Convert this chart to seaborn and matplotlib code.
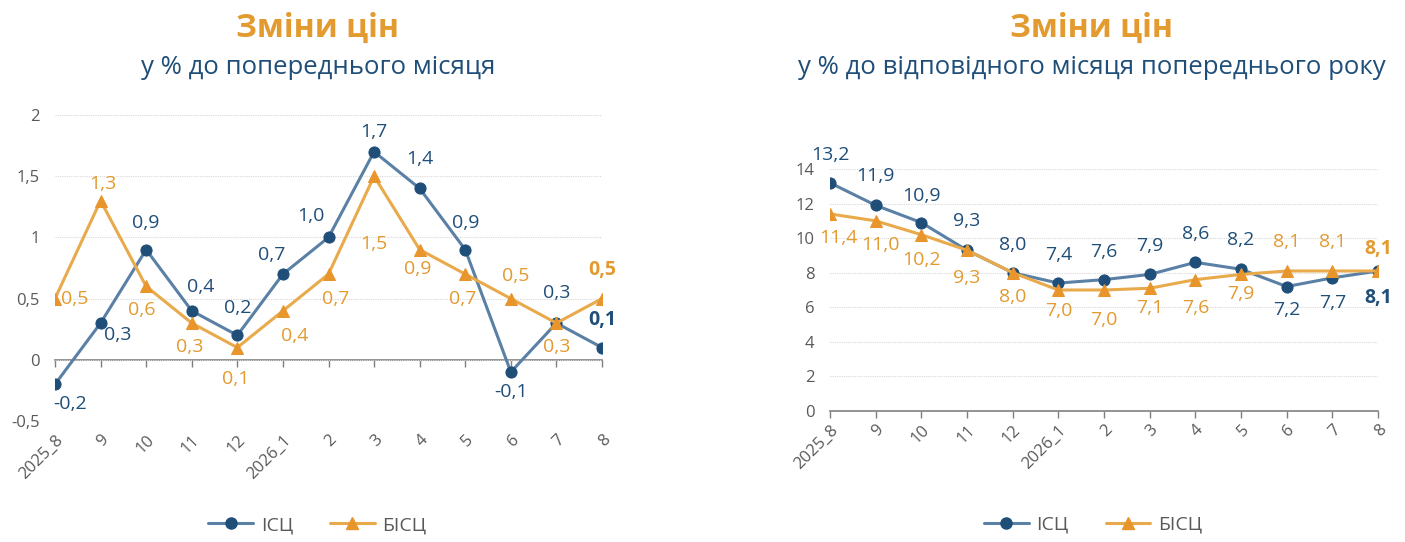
import pandas as pd
import seaborn as sns
import matplotlib.pyplot as plt
from matplotlib.lines import Line2D

# ---- дані ----
months = ['2025_8', '9', '10', '11', '12', '2026_1', '2', '3', '4', '5', '6', '7', '8']
isc_mom = [-0.2, 0.3, 0.9, 0.4, 0.2, 0.7, 1.0, 1.7, 1.4, 0.9, -0.1, 0.3, 0.1]
bisc_mom = [0.5, 1.3, 0.6, 0.3, 0.1, 0.4, 0.7, 1.5, 0.9, 0.7, 0.5, 0.3, 0.5]
isc_yoy = [13.2, 11.9, 10.9, 9.3, 8.0, 7.4, 7.6, 7.9, 8.6, 8.2, 7.2, 7.7, 8.1]
bisc_yoy = [11.4, 11.0, 10.2, 9.3, 8.0, 7.0, 7.0, 7.1, 7.6, 7.9, 8.1, 8.1, 8.1]

# зміщення підписів (пікселі: dx, dy вниз)
isc_mom_off = [(15, 20), (17, 12), (0, -27), (9, -24), (0, -27), (-11, -19), (-18, -21),
               (0, -20), (0, -29), (0, -27), (0, 20), (0, -30), (0, -28)]
bisc_mom_off = [(20, 0), (2, -17), (-4, 24), (-2, 24), (-2, 31), (12, 25), (7, 25),
                (0, 68), (-2, 19), (-3, 25), (5, -23), (0, 24), (0, -29)]
isc_yoy_off = [(0, -28), (0, -29), (0, -27), (0, -29), (0, -28), (0, -28), (0, -28),
               (0, -28), (0, -28), (0, -29), (0, 23), (0, 25), (0, 27)]
bisc_yoy_off = [(8, 24), (5, 24), (0, 25), (0, 28), (0, 24), (0, 21), (0, 30),
                (0, 20), (0, 28), (0, 20), (0, -29), (0, -29), (0, -22)]

BLUE_LINE = '#5b80a5'
BLUE_MARK = '#1f4e79'
ORANGE_LINE = '#e9aa4c'
ORANGE_MARK = '#e8952c'
ORANGE_TXT = '#e39a2f'
GREY = '#595959'

sns.set_style('white')
plt.rcParams['font.family'] = ['Open Sans', 'DejaVu Sans']

fig = plt.figure(figsize=(14.05, 5.42), dpi=100)
ax1 = fig.add_axes([55 / 1405, 1 - 421 / 542, 547 / 1405, 306 / 542])
ax2 = fig.add_axes([830 / 1405, 1 - 411 / 542, 548 / 1405, 242 / 542])


def fmt(v):
    return f'{v:.1f}'.replace('.', ',')


def draw(ax, isc, bisc, isc_off, bisc_off):
    df = pd.DataFrame({'month': months, 'isc': isc, 'bisc': bisc})
    sns.lineplot(data=df, x='month', y='isc', ax=ax, sort=False, color=BLUE_LINE, lw=2.2,
                 marker='o', markersize=8, markerfacecolor=BLUE_MARK, markeredgecolor=BLUE_MARK)
    sns.lineplot(data=df, x='month', y='bisc', ax=ax, sort=False, color=ORANGE_LINE, lw=2.2,
                 marker='^', markersize=8, markerfacecolor=ORANGE_MARK, markeredgecolor=ORANGE_MARK)
    n = len(months)
    for i, (v, (dx, dy)) in enumerate(zip(isc, isc_off)):
        ax.annotate(fmt(v), (i, v), xytext=(dx * 0.72, -dy * 0.72), textcoords='offset points',
                    ha='center', va='center', fontsize=14, color=BLUE_MARK,
                    fontweight='bold' if i == n - 1 else 'normal', annotation_clip=False)
    for i, (v, (dx, dy)) in enumerate(zip(bisc, bisc_off)):
        ax.annotate(fmt(v), (i, v), xytext=(dx * 0.72, -dy * 0.72), textcoords='offset points',
                    ha='center', va='center', fontsize=14, color=ORANGE_TXT,
                    fontweight='bold' if i == n - 1 else 'normal', annotation_clip=False)
    ax.set_xlim(0, n - 1)
    ax.set_xlabel('')
    ax.set_ylabel('')
    ax.set_xticks(range(n))
    ax.set_xticklabels(months, rotation=45, ha='right', rotation_mode='anchor',
                       fontsize=12, color=GREY)
    ax.tick_params(axis='x', length=0, pad=8)
    ax.tick_params(axis='y', length=0, labelsize=12, labelcolor=GREY, pad=11)
    ax.grid(axis='y', color='#d9d9d9', linestyle=(0, (1, 1)), lw=0.8)
    for s in ax.spines.values():
        s.set_visible(False)
    ax.legend(handles=[
        Line2D([], [], color=BLUE_LINE, lw=2.2, marker='o', markersize=8,
               markerfacecolor=BLUE_MARK, markeredgecolor=BLUE_MARK, label='ІСЦ'),
        Line2D([], [], color=ORANGE_LINE, lw=2.2, marker='^', markersize=8,
               markerfacecolor=ORANGE_MARK, markeredgecolor=ORANGE_MARK, label='БІСЦ'),
    ], loc='center', ncol=2, frameon=False, fontsize=14, labelcolor=GREY,
        handlelength=2.3, handletextpad=0.4, columnspacing=1.9)


draw(ax1, isc_mom, bisc_mom, isc_mom_off, bisc_mom_off)
ax1.set_ylim(-0.5, 2)
ax1.set_yticks([-0.5, 0, 0.5, 1, 1.5, 2])
ax1.set_yticklabels(['-0,5', '0', '0,5', '1', '1,5', '2'])
ax1.get_legend().set_bbox_to_anchor((0.48, -0.34))
zero = ax1.secondary_xaxis(0.2)

draw(ax2, isc_yoy, bisc_yoy, isc_yoy_off, bisc_yoy_off)
ax2.set_ylim(0, 14)
ax2.set_yticks(range(0, 15, 2))
ax2.get_legend().set_bbox_to_anchor((0.48, -0.47))
zero2 = ax2.secondary_xaxis(0.0)

for sec in (zero, zero2):
    sec.set_xticks(range(len(months)))
    sec.set_xticklabels([])
    sec.tick_params(direction='out', length=5, color='#7f7f7f', width=1)
    sec.spines['bottom'].set_color('#7f7f7f')
    sec.spines['bottom'].set_linewidth(1.2)

for cx, sub in ((318, 'у % до попереднього місяця'),
                (1092, 'у % до відповідного місяця попереднього року')):
    fig.text(cx / 1405, 1 - 28 / 542, 'Зміни цін', ha='center', va='center',
             fontsize=23, fontweight='bold', color=ORANGE_TXT)
    fig.text(cx / 1405, 1 - 68 / 542, sub, ha='center', va='center',
             fontsize=18.5, color=BLUE_MARK)

fig.savefig('out.png', dpi=100)
